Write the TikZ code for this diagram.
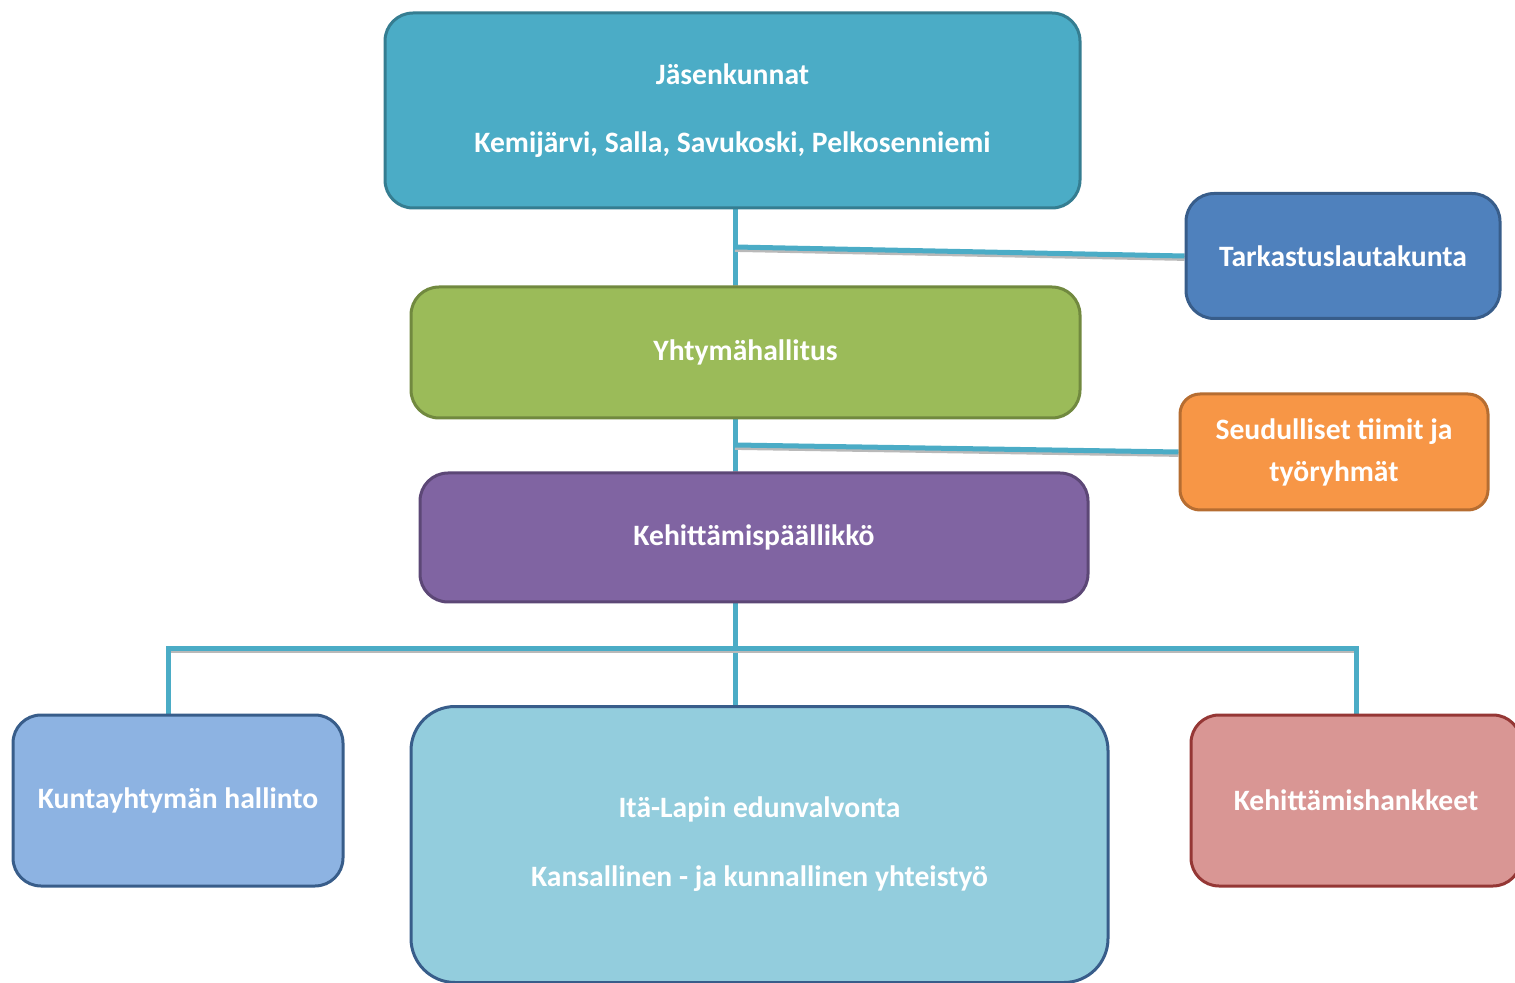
\documentclass[tikz,border=0pt]{standalone}
\usepackage{fontspec}
\setmainfont{Carlito}
\usetikzlibrary{backgrounds,calc}
\definecolor{cJas}{HTML}{4BACC6}\definecolor{bJas}{HTML}{357D91}
\definecolor{cTark}{HTML}{4F81BD}\definecolor{bTark}{HTML}{385D8A}
\definecolor{cYht}{HTML}{9BBB59}\definecolor{bYht}{HTML}{71893F}
\definecolor{cSeud}{HTML}{F79646}\definecolor{bSeud}{HTML}{B66D31}
\definecolor{cKehp}{HTML}{8064A2}\definecolor{bKehp}{HTML}{5C4776}
\definecolor{cKunta}{HTML}{8DB3E2}\definecolor{bKunta}{HTML}{385D8A}
\definecolor{cIta}{HTML}{93CDDD}\definecolor{bIta}{HTML}{385D8A}
\definecolor{cHank}{HTML}{D99694}\definecolor{bHank}{HTML}{953735}
\definecolor{cLine}{HTML}{4BACC6}
\tikzset{
  orgbox/.style={rectangle, rounded corners=14pt, line width=1.5pt, text=white,
    font=\fontsize{14.8}{17.8}\selectfont\bfseries, align=center, inner sep=0pt},
  conn/.style={draw=cLine, line width=2.5pt,
    preaction={draw=gray!55, line width=2.5pt, transform canvas={yshift=-1.2pt}}},
}
\begin{document}
\begin{tikzpicture}[x=0.5pt,y=-0.5pt]
\useasboundingbox (0,0) rectangle (1515,983);
\node[orgbox, fill=cJas, draw=bJas, minimum width=347.5pt, minimum height=97.5pt] (jas) at (732.5,110.5)
  {Jäsenkunnat\\[16.2pt]Kemijärvi, Salla, Savukoski, Pelkosenniemi};
\node[orgbox, fill=cTark, draw=bTark, minimum width=157pt, minimum height=62.5pt] (tark) at (1343,256)
  {Tarkastuslautakunta};
\node[orgbox, fill=cYht, draw=bYht, minimum width=334.5pt, minimum height=65.5pt] (yht) at (745.5,352.5)
  {Yhtymähallitus};
\node[orgbox, fill=cSeud, draw=bSeud, minimum width=154pt, minimum height=58pt, rounded corners=10pt] (seud) at (1334,452)
  {Seudulliset tiimit ja\\[3.2pt]työryhmät};
\node[orgbox, fill=cKehp, draw=bKehp, minimum width=334pt, minimum height=64.5pt] (kehp) at (754,537.5)
  {Kehittämispäällikkö};
\node[orgbox, fill=cKunta, draw=bKunta, minimum width=165pt, minimum height=85.5pt] (kunta) at (178,800.5)
  {Kuntayhtymän hallinto};
\node[orgbox, fill=cIta, draw=bIta, minimum width=348.5pt, minimum height=138pt, rounded corners=22pt] (ita) at (759.5,844.5)
  {Itä-Lapin edunvalvonta\\[16.7pt]Kansallinen - ja kunnallinen yhteistyö};
\node[orgbox, fill=cHank, draw=bHank, minimum width=165pt, minimum height=85.5pt] (hank) at (1356,800.5)
  {Kehittämishankkeet};
\coordinate (spine) at (735,0);
\coordinate (j1) at (735,247);
\coordinate (y1) at (735,445);
\coordinate (bus) at (735,648);
\begin{pgfonlayer}{background}
\draw[conn] (jas.south -| spine) -- (yht.north -| spine);
\draw[conn] (j1) -- (tark.west);
\draw[conn] (yht.south -| spine) -- (kehp.north -| spine);
\draw[conn] (y1) -- (seud.west);
\draw[conn] (kehp.south -| spine) -- (ita.north -| spine);
\draw[conn] ([xshift=-5pt]kunta.north) |- (bus) -| (hank.north);
\end{pgfonlayer}
\end{tikzpicture}
\end{document}
